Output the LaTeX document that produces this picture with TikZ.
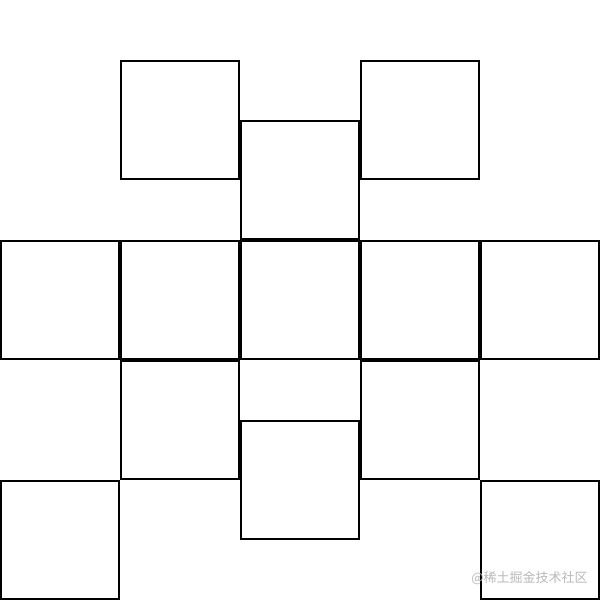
\documentclass[tikz,border=0pt]{standalone}
\usepackage{fontspec}
\newfontfamily\cjkfont{Noto Sans CJK SC}
\usepackage{tikz}

\begin{document}
\begin{tikzpicture}[x=0.5pt,y=-0.5pt,
  sq/.style={draw,line width=1pt,minimum size=59pt,inner sep=0pt}]
\useasboundingbox (0,0) rectangle (604,602);
\node[sq] (t1) at (180,120) {};
\node[sq] (t2) at (420,120) {};
\node[sq] (tc) at (300,180) {};
\node[sq] (m0) at (60,300) {};
\node[sq] (m1) at (180,300) {};
\node[sq] (m2) at (300,300) {};
\node[sq] (m3) at (420,300) {};
\node[sq] (m4) at (540,300) {};
\node[sq] (b1) at (180,420) {};
\node[sq] (b2) at (420,420) {};
\node[sq] (bc) at (300,480) {};
\node[sq] (f0) at (60,540) {};
\node[sq] (f4) at (540,540) {};
\node[text=black!28,inner sep=0pt,anchor=east] (wm) at (588,578)
  {\cjkfont\fontsize{6.5pt}{7pt}\selectfont @稀土掘金技术社区};
\end{tikzpicture}
\end{document}
